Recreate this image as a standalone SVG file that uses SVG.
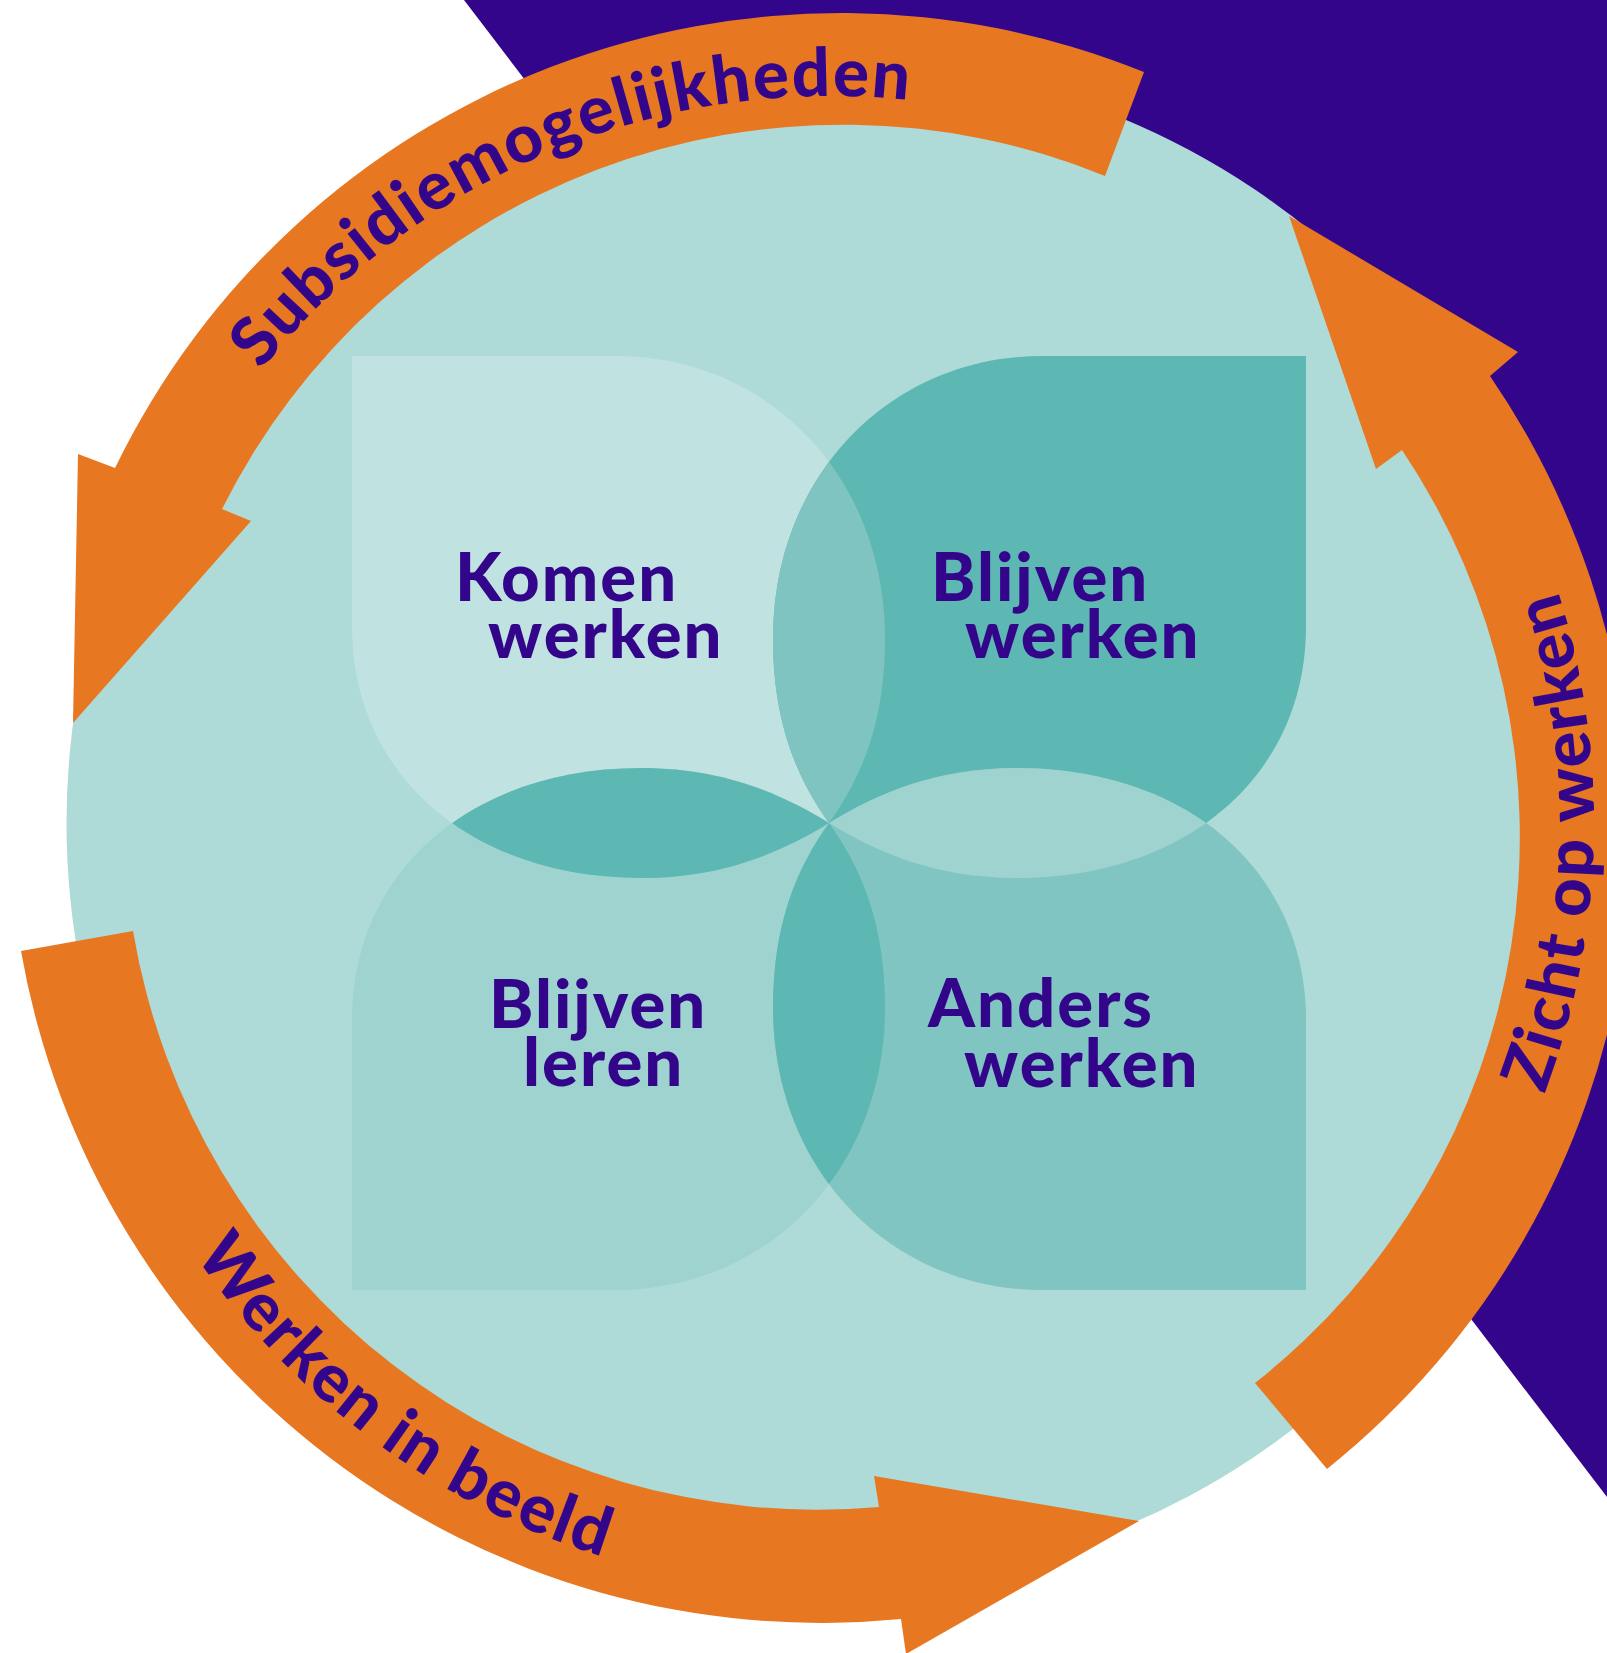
<svg xmlns="http://www.w3.org/2000/svg" width="1607" height="1653" viewBox="0 0 1607 1653">
<style>
.lbl{font-family:Lato,"Liberation Sans",sans-serif;font-weight:900;font-size:67px;fill:#33058A;letter-spacing:2px}
.arcl{font-family:Lato,"Liberation Sans",sans-serif;font-weight:900;font-size:67px;fill:#33058A;letter-spacing:2px}
.arrow{fill:#E87722}
</style>
<defs>
<path id="pTL" d="M352,356 L616,356 C766,356 885,474 885,639 C885,721 862,777 829,823 C780,853 722,878 641,878 C472,878 352,776 352,626 Z"/>
<clipPath id="cTL"><use href="#pTL"/></clipPath>
<clipPath id="cBR"><use href="#pTL" transform="translate(1658,1646) scale(-1,-1)"/></clipPath>
<path id="tpTop" d="M200.4,459.5 A727,727 0 0 1 1193.5,193.4"/>
<path id="tpRight" d="M1491.6,1205 A764,764 0 0 0 1491.6,441"/>
<path id="tpBottom" d="M108.3,1085.7 A768,768 0 0 0 1092.7,1544.7"/>
</defs>
<rect width="1607" height="1653" fill="#ffffff"/>
<polygon points="464,0 1607,0 1607,1497" fill="#33058A"/>
<circle cx="829.5" cy="823" r="763" fill="#AEDBD8"/>

<g id="node-komen-werken">
<use href="#pTL" fill="#C0E3E1"/>
<text class="lbl" x="455" y="601">Komen</text>
<text class="lbl" x="488" y="658">werken</text>
</g>
<g id="node-blijven-werken">
<use href="#pTL" transform="translate(1658,0) scale(-1,1)" fill="#5DB7B3"/>
<text class="lbl" x="931" y="601">Blijven</text>
<text class="lbl" x="965" y="658">werken</text>
</g>
<g id="node-blijven-leren">
<use href="#pTL" transform="translate(0,1646) scale(1,-1)" fill="#9ED3D0"/>
<text class="lbl" x="489" y="1028">Blijven</text>
<text class="lbl" x="523" y="1086">leren</text>
</g>
<g id="node-anders-werken">
<use href="#pTL" transform="translate(1658,1646) scale(-1,-1)" fill="#80C5C1"/>
<text class="lbl" x="928" y="1027">Anders</text>
<text class="lbl" x="964" y="1087">werken</text>
</g>
<g id="overlaps">
<g clip-path="url(#cTL)"><use href="#pTL" transform="translate(1658,0) scale(-1,1)" fill="#7FC4C0"/></g>
<g clip-path="url(#cTL)"><use href="#pTL" transform="translate(0,1646) scale(1,-1)" fill="#5DB7B3"/></g>
<g clip-path="url(#cBR)"><use href="#pTL" transform="translate(1658,0) scale(-1,1)" fill="#9ED3D0"/></g>
<g clip-path="url(#cBR)"><use href="#pTL" transform="translate(0,1646) scale(1,-1)" fill="#5DB7B3"/></g>
</g>

<g id="connectors">
<g id="arrow-subsidie">
<path class="arrow" d="M1144,72 A807,807 0 0 0 115,468 L78,454 L73,723 L251,521 L222,509 A694,694 0 0 1 1105,176 Z"/>
<text class="arcl"><textPath href="#tpTop" startOffset="108">Subsidiemogelijkheden</textPath></text>
</g>
<g id="arrow-zicht">
<path class="arrow" d="M1327,1469 A812,812 0 0 0 1490,376 L1518,352 L1289,216 L1376,469 L1402,450 A695,695 0 0 1 1255,1383 Z"/>
<text class="arcl"><textPath href="#tpRight" startOffset="123">Zicht op werken</textPath></text>
</g>
<g id="arrow-werken">
<path class="arrow" d="M21,951 A812,812 0 0 0 901,1619 L906,1654 L1139,1521 L874,1476 L879,1507 A694,694 0 0 1 133,931 Z"/>
<text class="arcl"><textPath href="#tpBottom" startOffset="190">Werken in beeld</textPath></text>
</g>
</g>
</svg>
